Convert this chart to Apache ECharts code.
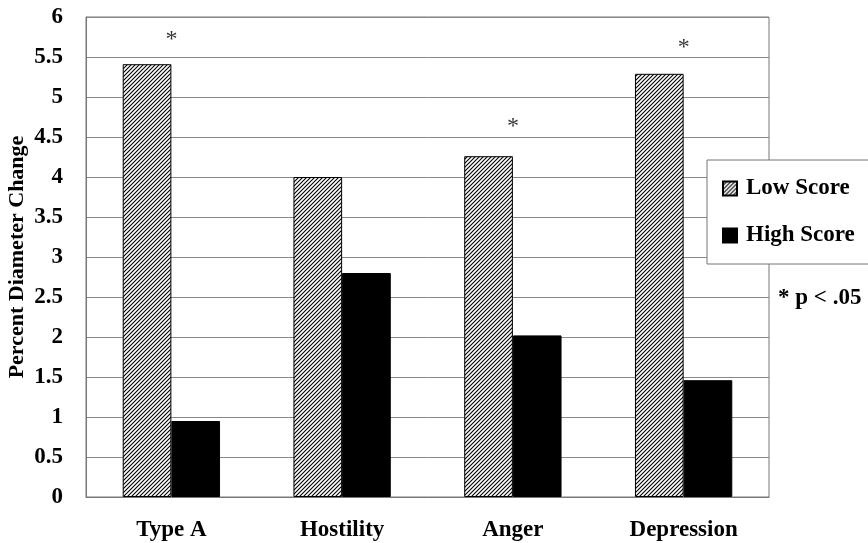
<!DOCTYPE html>
<html><head><meta charset="utf-8">
<script src="https://cdn.jsdelivr.net/npm/echarts@6/dist/echarts.min.js"></script>
<style>html,body{margin:0;padding:0;background:#fff}#c{width:868px;height:543px}</style>
</head><body><div id="c"></div>
<script>
const categories = ['Type A', 'Hostility', 'Anger', 'Depression'];
const lowScore = [5.41, 4.0, 4.26, 5.29];
const highScore = [0.95, 2.8, 2.02, 1.46];
const sigMarks = [5.72, null, 4.63, 5.62];
const yTicks = [0, 0.5, 1, 1.5, 2, 2.5, 3, 3.5, 4, 4.5, 5, 5.5, 6];

function hatch() {
  const c = document.createElement('canvas');
  c.width = 4; c.height = 4;
  const g = c.getContext('2d');
  g.fillStyle = '#fff'; g.fillRect(0, 0, 4, 4);
  g.strokeStyle = '#000'; g.lineWidth = 1.1;
  g.beginPath();
  g.moveTo(-1, 5); g.lineTo(5, -1);
  g.moveTo(-1, 1); g.lineTo(1, -1);
  g.moveTo(3, 5); g.lineTo(5, 3);
  g.stroke();
  return c;
}
const pat = { image: hatch(), repeat: 'repeat' };
const font = '"Liberation Serif", "Times New Roman", serif';

const chart = echarts.init(document.getElementById('c'));
chart.setOption({
  animation: false,
  backgroundColor: '#fff',
  grid: { left: 86, right: 99, top: 17, bottom: 46, show: true, borderColor: '#777', borderWidth: 1,
          containLabel: false, outerBoundsMode: 'none' },
  legend: {
    orient: 'vertical', left: 707, top: 160, width: 170,
    data: [{ name: 'Low Score', icon: 'rect' }, { name: 'High Score', icon: 'rect' }],
    backgroundColor: '#fff', borderColor: '#777', borderWidth: 1,
    padding: [17, 20, 17, 15], itemGap: 24, itemWidth: 14, itemHeight: 14,
    textStyle: { fontFamily: font, fontWeight: 'bold', fontSize: 23, color: '#000', padding: [0, 0, 0, 4] }
  },
  xAxis: {
    type: 'category', data: categories,
    axisTick: { show: false },
    axisLine: { lineStyle: { color: '#777' } },
    axisLabel: { fontFamily: font, fontWeight: 'bold', fontSize: 23, color: '#000', margin: 22 }
  },
  yAxis: {
    type: 'value', min: yTicks[0], max: yTicks[yTicks.length - 1], interval: 0.5,
    name: 'Percent Diameter Change', nameLocation: 'middle', nameGap: 58, nameMoveOverlap: false,
    nameTextStyle: { fontFamily: font, fontWeight: 'bold', fontSize: 22, color: '#000' },
    axisLine: { show: true, lineStyle: { color: '#777' } },
    axisTick: { show: false },
    splitLine: { lineStyle: { color: '#888', width: 1 } },
    axisLabel: { fontFamily: font, fontWeight: 'bold', fontSize: 23, color: '#000', margin: 23 }
  },
  graphic: [{
    type: 'text', left: 778, top: 287,
    style: { text: '* p < .05', font: 'bold 23px ' + font, fill: '#000' }
  }],
  series: [
    { name: 'Low Score', type: 'bar', data: lowScore, barGap: '0%', barCategoryGap: '43%',
      itemStyle: { color: pat, borderColor: '#000', borderWidth: 1 } },
    { name: 'High Score', type: 'bar', data: highScore,
      itemStyle: { color: '#000', borderColor: '#000', borderWidth: 1 } },
    { name: 'sig', type: 'scatter', data: sigMarks, symbolSize: 1,
      itemStyle: { color: 'rgba(0,0,0,0)' },
      label: { show: true, position: 'inside', formatter: '*', fontFamily: font, fontSize: 24, color: '#000' } }
  ]
});
</script></body></html>
